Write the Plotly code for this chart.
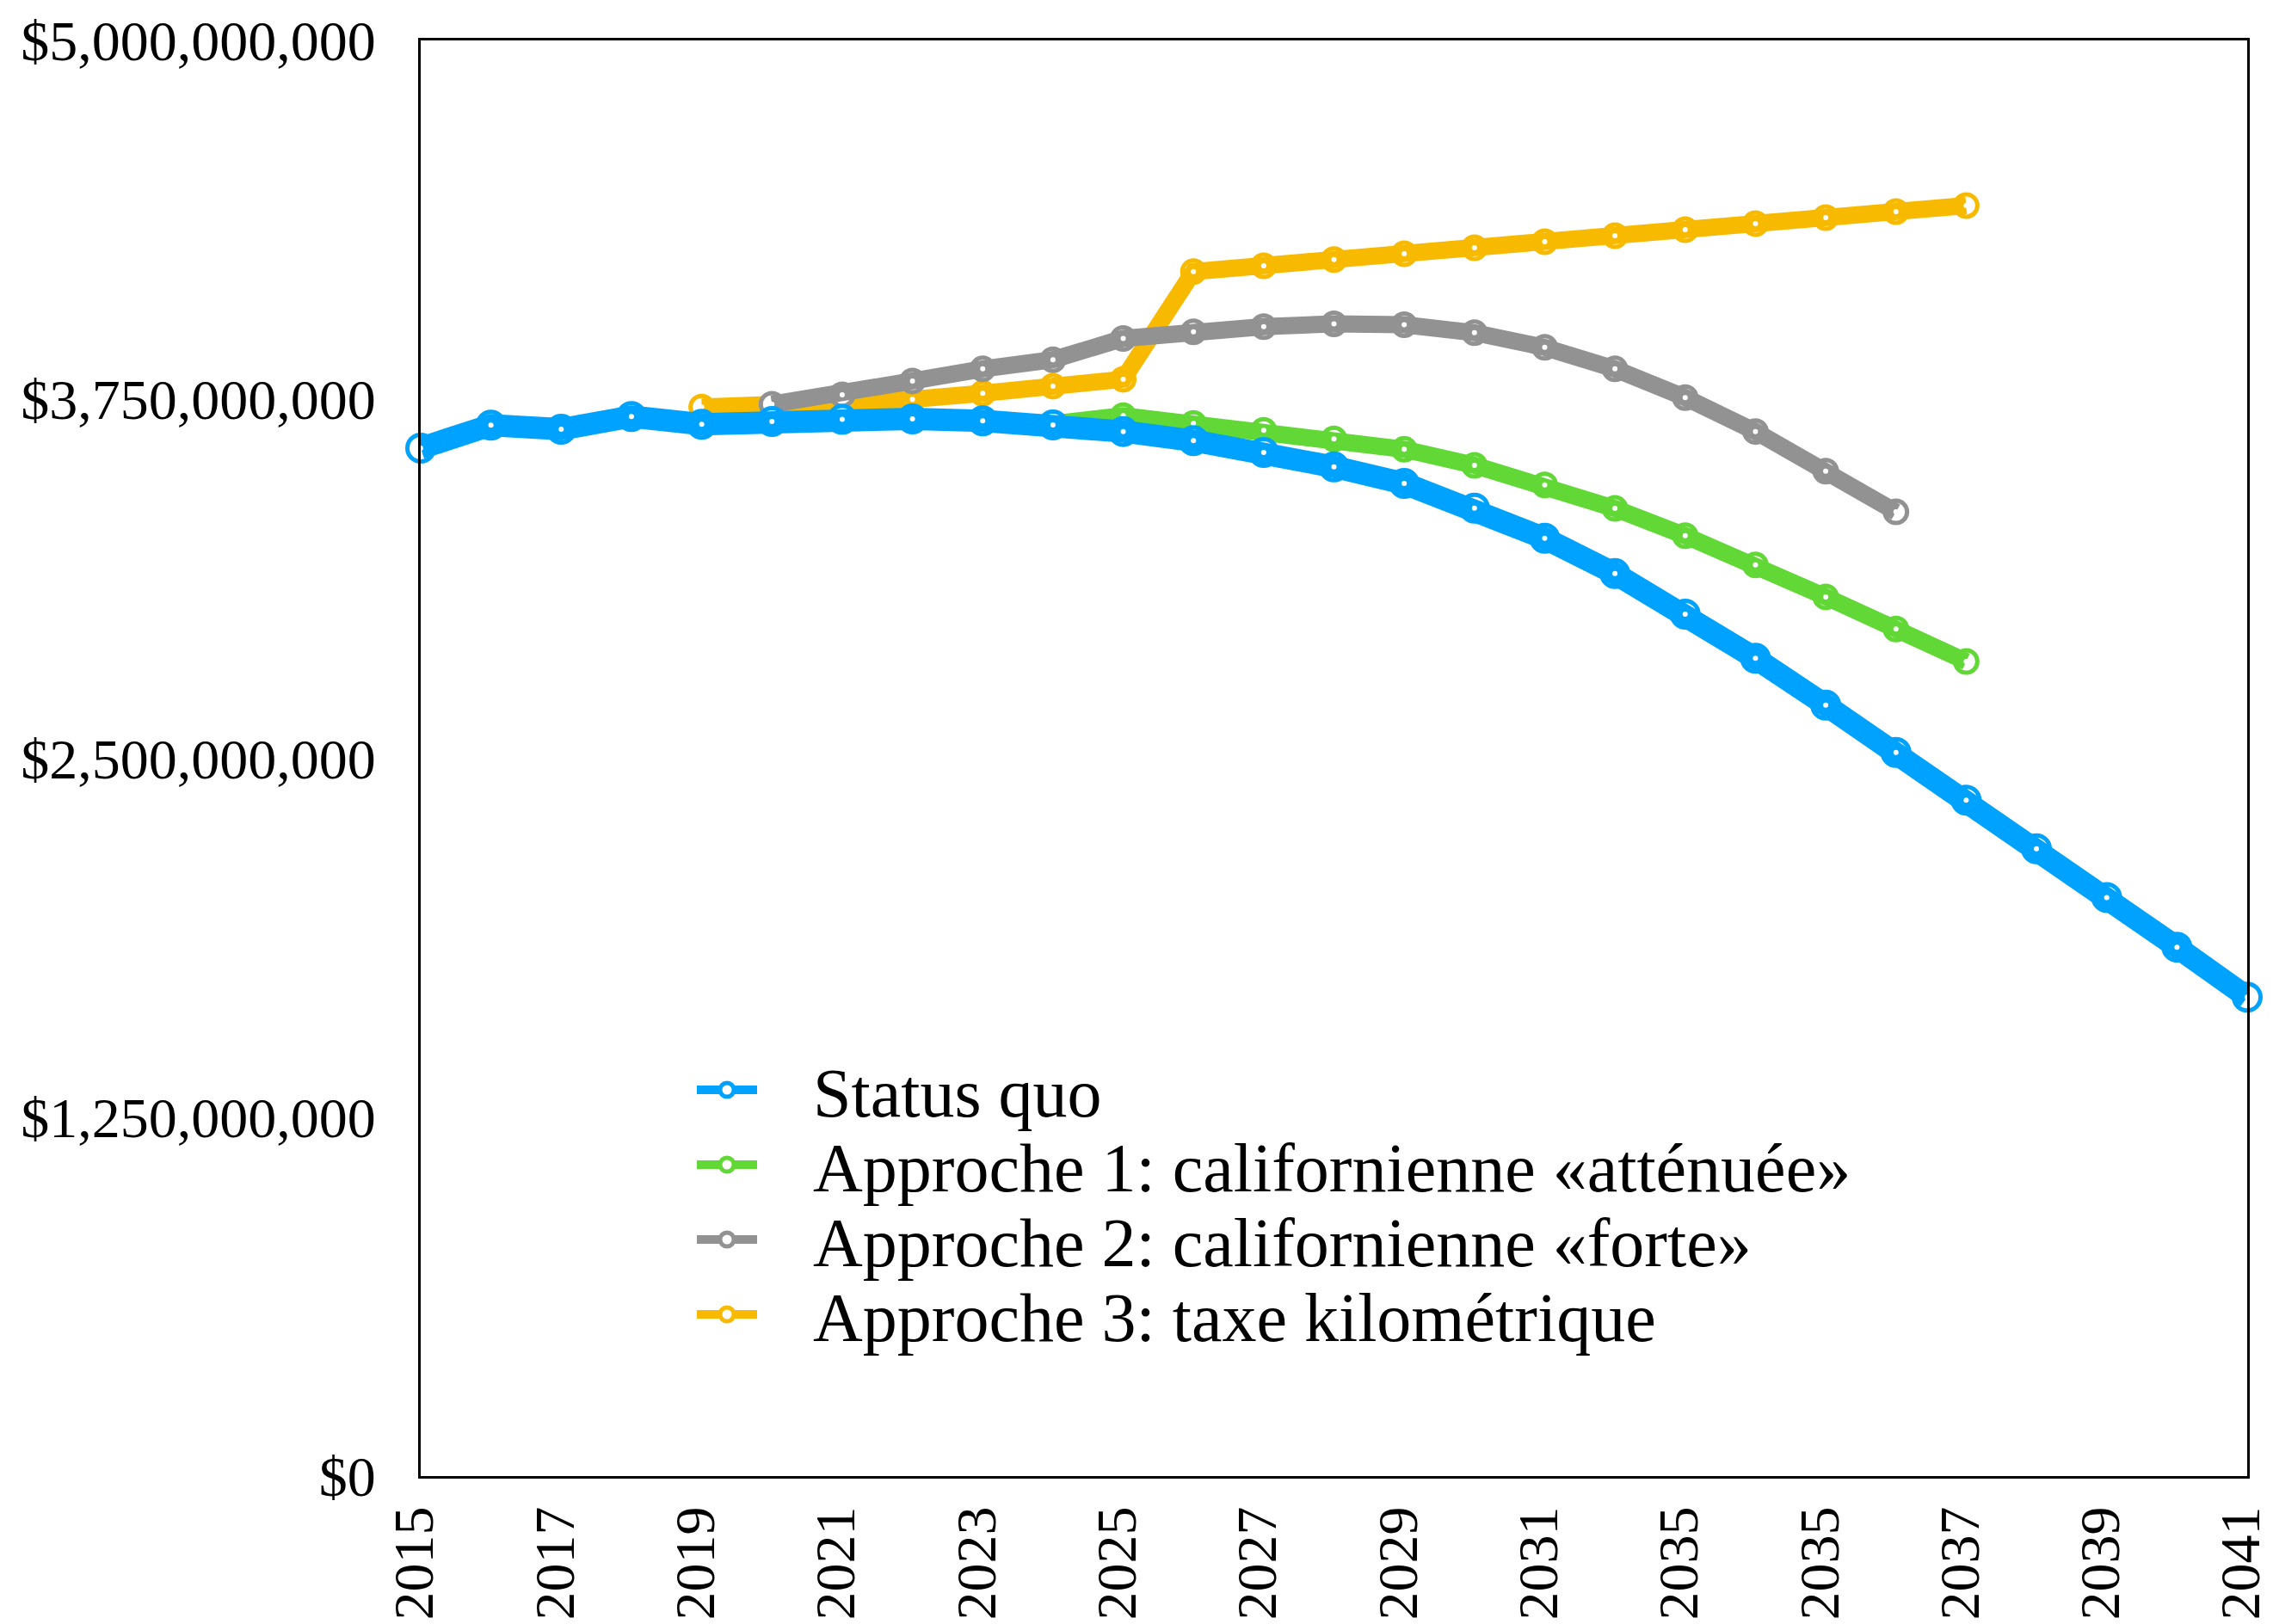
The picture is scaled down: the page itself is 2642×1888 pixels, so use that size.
import plotly.graph_objects as go

# Years on the horizontal axis and the labels printed under it
years = [2015, 2016, 2017, 2018, 2019, 2020, 2021, 2022, 2023, 2024, 2025, 2026, 2027, 2028,
         2029, 2030, 2031, 2032, 2033, 2034, 2035, 2036, 2037, 2038, 2039, 2040, 2041]
x_tick_years = [2015, 2017, 2019, 2021, 2023, 2025, 2027, 2029, 2031, 2033, 2035, 2037, 2039, 2041]
x_tick_labels = ["2015", "2017", "2019", "2021", "2023", "2025", "2027", "2029", "2031",
                 "2035", "2035", "2037", "2039", "2041"]
y_ticks = [0, 1250000000, 2500000000, 3750000000, 5000000000]
y_tick_labels = ["$0", "$1,250,000,000", "$2,500,000,000", "$3,750,000,000", "$5,000,000,000"]

# Revenue scenarios (dollars)
status_quo = [3.580e9, 3.660e9, 3.646e9, 3.690e9, 3.663e9, 3.673e9, 3.680e9, 3.682e9, 3.675e9,
              3.661e9, 3.638e9, 3.606e9, 3.565e9, 3.515e9, 3.457e9, 3.371e9, 3.266e9, 3.143e9,
              3.002e9, 2.848e9, 2.685e9, 2.520e9, 2.354e9, 2.185e9, 2.015e9, 1.842e9, 1.668e9]

approche1_years = years[5:23]
approche1 = [3.673e9, 3.680e9, 3.682e9, 3.675e9, 3.665e9, 3.693e9, 3.666e9, 3.642e9, 3.612e9,
             3.576e9, 3.520e9, 3.452e9, 3.370e9, 3.275e9, 3.173e9, 3.062e9, 2.950e9, 2.837e9]

approche2_years = years[5:22]
approche2 = [3.733e9, 3.766e9, 3.814e9, 3.856e9, 3.888e9, 3.962e9, 3.985e9, 4.003e9, 4.013e9,
             4.010e9, 3.982e9, 3.931e9, 3.856e9, 3.756e9, 3.638e9, 3.500e9, 3.358e9]

approche3_years = years[4:23]
approche3 = [3.723e9, 3.729e9, 3.738e9, 3.750e9, 3.771e9, 3.796e9, 3.820e9, 4.195e9, 4.215e9,
             4.237e9, 4.257e9, 4.278e9, 4.299e9, 4.320e9, 4.341e9, 4.362e9, 4.383e9, 4.404e9,
             4.425e9]

names = ["Status quo",
         "Approche 1: californienne «atténuée»",
         "Approche 2: californienne «forte»",
         "Approche 3: taxe kilométrique"]
colors = ["#00A2FF", "#61D836", "#929292", "#F8BA00"]

# (x, y, name, colour, line width, ring size, legend id)
series = [
    (years, status_quo, names[0], colors[0], 26, 31, "legend"),
    (approche1_years, approche1, names[1], colors[1], 20, 26, "legend2"),
    (approche2_years, approche2, names[2], colors[2], 20, 26, "legend3"),
    (approche3_years, approche3, names[3], colors[3], 20, 26, "legend4"),
]

FONT = "Liberation Serif, Times New Roman, serif"
GAP = "\u00a0\u00a0\u00a0"  # space between the legend symbol and its label

fig = go.Figure()

# Draw the last scenario first so the status quo line ends up on top
for xs, ys, name, color, lw, ring, leg in reversed(series):
    # open ring behind each point
    fig.add_trace(go.Scatter(
        x=xs, y=ys, mode="markers", showlegend=False, hoverinfo="skip",
        cliponaxis=False,
        marker=dict(symbol="circle", size=ring, color="white",
                    line=dict(color=color, width=5)),
    ))
    # thick line with a small white dot at each point
    fig.add_trace(go.Scatter(
        x=xs, y=ys, mode="lines+markers", showlegend=False, name=name,
        cliponaxis=False,
        line=dict(color=color, width=lw),
        marker=dict(symbol="circle", size=6, color="white", line=dict(width=0)),
    ))

# Legend entries (one legend box per row)
for xs, ys, name, color, lw, ring, leg in series:
    fig.add_trace(go.Scatter(
        x=[None], y=[None], mode="lines+markers", name=GAP + name, legend=leg,
        line=dict(color=color, width=10),
        marker=dict(symbol="circle", size=16, color="white",
                    line=dict(color=color, width=5)),
    ))

plot_left, plot_right, plot_top, plot_bottom = 489, 2612, 47, 1716
H = plot_bottom - plot_top
row_centers = [1267, 1354, 1441, 1528]
legend_x = (805 - plot_left) / (plot_right - plot_left)

legend_common = dict(
    xanchor="left", yanchor="middle", x=legend_x,
    font=dict(family=FONT, size=80, color="black"),
    bgcolor="rgba(0,0,0,0)", borderwidth=0, itemwidth=70,
)
legends = {}
for i, key in enumerate(["legend", "legend2", "legend3", "legend4"]):
    legends[key] = dict(legend_common, y=(plot_bottom - row_centers[i]) / H)

fig.update_layout(
    width=2642, height=1888,
    margin=dict(l=plot_left, r=2642 - plot_right, t=plot_top, b=1888 - plot_bottom, pad=0,
                autoexpand=False),
    paper_bgcolor="white", plot_bgcolor="white",
    font=dict(family=FONT, color="black"),
    showlegend=True,
    **legends,
)

fig.update_xaxes(
    range=[2015, 2041], automargin=False,
    tickmode="array", tickvals=x_tick_years, ticktext=x_tick_labels,
    tickangle=-90, tickfont=dict(family=FONT, size=66, color="black"),
    ticks="", ticklabelstandoff=6, ticklabelshift=-7, ticklabeloverflow="allow",
    showline=True, mirror=True, linecolor="black", linewidth=3,
    showgrid=False, zeroline=False,
)
fig.update_yaxes(
    range=[0, 5000000000], automargin=False,
    tickmode="array", tickvals=y_ticks, ticktext=y_tick_labels,
    tickfont=dict(family=FONT, size=66, color="black"),
    ticks="", ticklabelstandoff=36, ticklabeloverflow="allow",
    showline=True, mirror=True, linecolor="black", linewidth=3,
    showgrid=False, zeroline=False,
)

fig.write_html("out.html")
